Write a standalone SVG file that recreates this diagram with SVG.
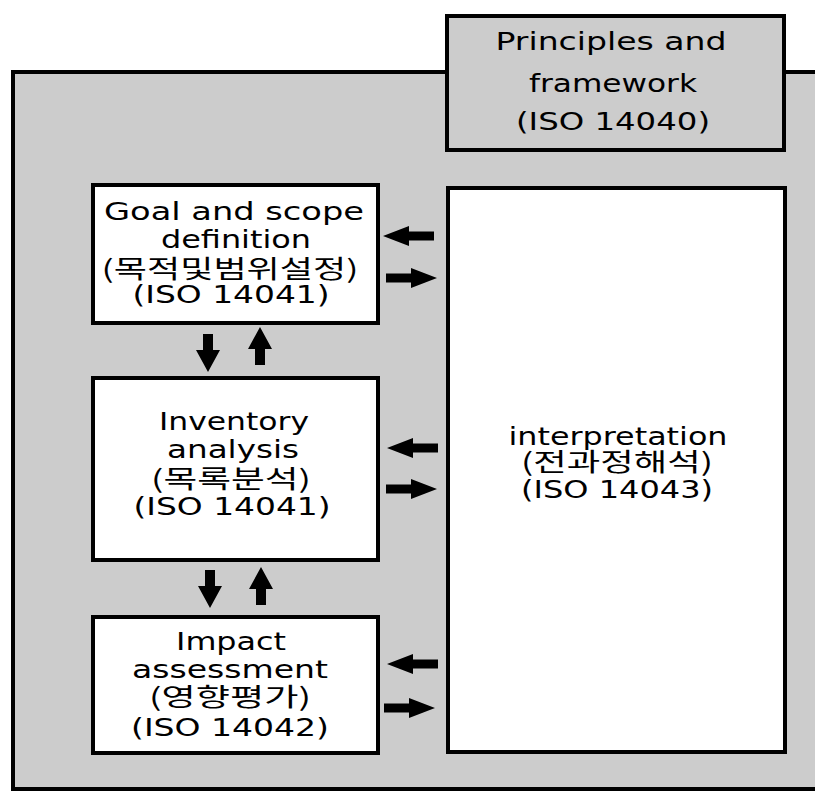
<svg xmlns="http://www.w3.org/2000/svg" xmlns:xlink="http://www.w3.org/1999/xlink" width="815" height="791" viewBox="0 0 815 791">
<style>
.frame{fill:#cccccc;stroke:#000;stroke-width:4}
.box{fill:#ffffff;stroke:#000;stroke-width:4}
.gbox{fill:#cccccc;stroke:#000;stroke-width:4}
.t{font-family:"DejaVu Sans","Liberation Sans",sans-serif;font-size:24px;fill:#000;text-anchor:middle}
.k{font-family:"Noto Sans CJK KR","DejaVu Sans",sans-serif;font-size:25px;fill:#000;text-anchor:middle}
.arr{fill:#000}
</style>
<defs>
<path id="arrL" d="M0,0 L26,-10 L26,-4.5 L51,-4.5 L51,4.5 L26,4.5 L26,10 Z"/>
<path id="arrD" d="M0,0 L-12,-22 L-5,-22 L-5,-38 L5,-38 L5,-22 L12,-22 Z"/>
</defs>
<rect x="0" y="0" width="815" height="791" fill="#ffffff"/>
<g id="frame">
<path class="frame" d="M830,72 L13,72 L13,789 L830,789 Z"/>
</g>
<g id="principles">
<rect class="gbox" x="447" y="16" width="337" height="134"/>
<text class="t" x="611" y="50" textLength="231" lengthAdjust="spacingAndGlyphs">Principles and</text>
<text class="t" x="613" y="92" textLength="168" lengthAdjust="spacingAndGlyphs">framework</text>
<text class="t" x="613" y="130" textLength="194" lengthAdjust="spacingAndGlyphs">(ISO 14040)</text>
</g>
<g id="goal">
<rect class="box" x="93" y="185" width="285" height="138"/>
<text class="t" x="234" y="220" textLength="260" lengthAdjust="spacingAndGlyphs">Goal and scope</text>
<text class="t" x="236" y="248" textLength="150" lengthAdjust="spacingAndGlyphs">definition</text>
<text class="k" x="230" y="278" textLength="257" lengthAdjust="spacingAndGlyphs">(목적및범위설정)</text>
<text class="t" x="231" y="303" textLength="197" lengthAdjust="spacingAndGlyphs">(ISO 14041)</text>
</g>
<g id="inventory">
<rect class="box" x="93" y="378" width="285" height="182"/>
<text class="t" x="234" y="430" textLength="150" lengthAdjust="spacingAndGlyphs">Inventory</text>
<text class="t" x="233" y="458" textLength="132" lengthAdjust="spacingAndGlyphs">analysis</text>
<text class="k" x="231" y="488" textLength="160" lengthAdjust="spacingAndGlyphs">(목록분석)</text>
<text class="t" x="232" y="515" textLength="197" lengthAdjust="spacingAndGlyphs">(ISO 14041)</text>
</g>
<g id="impact">
<rect class="box" x="93" y="617" width="285" height="136"/>
<text class="t" x="231" y="650" textLength="110" lengthAdjust="spacingAndGlyphs">Impact</text>
<text class="t" x="230" y="678" textLength="196" lengthAdjust="spacingAndGlyphs">assessment</text>
<text class="k" x="230" y="706" textLength="162" lengthAdjust="spacingAndGlyphs">(영향평가)</text>
<text class="t" x="230" y="736" textLength="198" lengthAdjust="spacingAndGlyphs">(ISO 14042)</text>
</g>
<g id="interpretation">
<rect class="box" x="448" y="188" width="337" height="564"/>
<text class="t" x="618" y="445" textLength="219" lengthAdjust="spacingAndGlyphs">interpretation</text>
<text class="k" x="617" y="471" textLength="192" lengthAdjust="spacingAndGlyphs">(전과정해석)</text>
<text class="t" x="617" y="498" textLength="192" lengthAdjust="spacingAndGlyphs">(ISO 14043)</text>
</g>
<g id="connectors" class="arr">
<use xlink:href="#arrL" transform="translate(383,236)"/>
<use xlink:href="#arrL" transform="translate(437,278) rotate(180)"/>
<use xlink:href="#arrL" transform="translate(387,448)"/>
<use xlink:href="#arrL" transform="translate(437,489) rotate(180)"/>
<use xlink:href="#arrL" transform="translate(387,664)"/>
<use xlink:href="#arrL" transform="translate(435,708) rotate(180)"/>
<use xlink:href="#arrD" transform="translate(208,372)"/>
<use xlink:href="#arrD" transform="translate(260,327) rotate(180)"/>
<use xlink:href="#arrD" transform="translate(210,608)"/>
<use xlink:href="#arrD" transform="translate(261,567) rotate(180)"/>
</g>
</svg>
